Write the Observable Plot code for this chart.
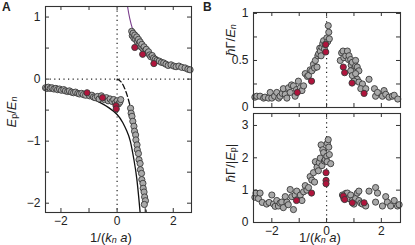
<!DOCTYPE html>
<html><head><meta charset="utf-8">
<script src="https://cdn.jsdelivr.net/npm/d3@7"></script>
<script src="https://cdn.jsdelivr.net/npm/@observablehq/plot@0.6"></script>
<style>
body{margin:0;background:#fff;}
#wrap{position:relative;width:415px;height:245px;font-family:"Liberation Sans",Arial,sans-serif;color:#222;}
.p{position:absolute;z-index:1;overflow:visible;}
.lab{position:absolute;white-space:nowrap;font-size:13px;line-height:1;z-index:5;}
.rot{transform:translate(-50%,-50%) rotate(-90deg);}
.hor{transform:translate(-50%,-50%);}
sub{font-size:9px;vertical-align:-1.5px;line-height:0;}
.pl{position:absolute;font-weight:bold;font-size:12px;z-index:5;}
</style></head>
<body><div id="wrap">
<div class="pl" style="left:2px;top:0px">A</div>
<div class="pl" style="left:203px;top:0px">B</div>
<div class="lab rot" style="left:11px;top:112px"><i>E</i><sub>p</sub>/<i>E</i><sub><i>n</i></sub></div>
<div class="lab hor" style="left:111px;top:236.5px">1/(<i>k</i><sub><i>n</i></sub> <i>a</i>)</div>
<div class="lab rot" style="left:230px;top:40px"><i>ħ</i>Γ/<i>E</i><sub><i>n</i></sub></div>
<div class="lab rot" style="left:230px;top:163px"><i>ħ</i>Γ/|<i>E</i><sub>p</sub>|</div>
<div class="lab hor" style="left:320px;top:236.5px">1/(<i>k</i><sub><i>n</i></sub> <i>a</i>)</div>
</div>
<script>
// ---- Panel A data ----
const aGrayLower = [[-2.55,-0.14],[-2.5,-0.15],[-2.45,-0.13],[-2.38,-0.15],[-2.32,-0.14],[-2.25,-0.16],[-2.18,-0.15],[-2.12,-0.17],[-2.05,-0.16],[-1.98,-0.18],[-1.9,-0.17],[-1.84,-0.19],[-1.76,-0.2],[-1.7,-0.19],[-1.62,-0.21],[-1.55,-0.22],[-1.48,-0.21],[-1.4,-0.23],[-1.34,-0.24],[-1.26,-0.23],[-1.2,-0.25],[-1.12,-0.26],[-0.98,-0.27],[-0.9,-0.26],[-0.84,-0.29],[-0.78,-0.3],[-0.7,-0.28],[-0.64,-0.32],[-0.56,-0.27],[-0.45,-0.33],[-0.38,-0.3],[-0.32,-0.35],[-0.25,-0.32],[-0.18,-0.36],[-0.12,-0.33],[-0.06,-0.38],[0.0,-0.35],[0.05,-0.4],[0.1,-0.37],[0.13,-0.33]];
const aGrayUpper = [[0.52,0.77],[0.54,0.70],[0.57,0.74],[0.6,0.66],[0.63,0.71],[0.66,0.64],[0.7,0.68],[0.72,0.6],[0.76,0.64],[0.78,0.56],[0.82,0.6],[0.85,0.52],[0.88,0.56],[0.92,0.49],[0.96,0.52],[1.0,0.46],[1.04,0.48],[1.08,0.42],[1.12,0.44],[1.16,0.39],[1.2,0.36],[1.25,0.38],[1.3,0.34],[1.36,0.32],[1.42,0.30],[1.5,0.29],[1.58,0.27],[1.66,0.26],[1.74,0.24],[1.82,0.22],[1.92,0.23],[2.02,0.21],[2.1,0.20],[2.2,0.21],[2.3,0.19],[2.42,0.18],[2.52,0.16],[2.6,0.15]];
const aGrayMolecule = [[0.48,-0.47],[0.5,-0.55],[0.53,-0.6],[0.56,-0.68],[0.6,-0.76],[0.62,-0.84],[0.66,-0.9],[0.67,-0.98],[0.71,-1.06],[0.72,-1.14],[0.76,-1.2],[0.78,-1.3],[0.82,-1.36],[0.83,-1.46],[0.87,-1.52],[0.88,-1.62],[0.92,-1.68],[0.93,-1.76],[0.96,-1.82],[0.98,-1.9],[1.01,-1.96],[0.97,-2.02]];
const aRed = [[-1.07,-0.22],[-0.52,-0.3],[-0.04,-0.43],[-0.03,-0.48],[0.63,0.51],[0.91,0.40],[1.31,0.25]];
const aRepulsiveCurve = [[0.34,1.3],[0.38,1.15],[0.45,0.98],[0.55,0.81],[0.7,0.63],[0.85,0.52],[1.0,0.44],[1.3,0.34],[1.6,0.27],[2.0,0.21],[2.3,0.185],[2.7,0.155]];
const aAttractiveCurve = [[-2.6,-0.14],[-2,-0.18],[-1.5,-0.23],[-1,-0.3],[-0.6,-0.38],[-0.3,-0.46],[0,-0.57],[0.2,-0.7],[0.35,-0.84],[0.47,-1.0],[0.6,-1.3],[0.7,-1.6],[0.78,-1.95],[0.84,-2.25]];
const aMoleculeCurve = [[0,0],[0.05,-0.01],[0.15,-0.05],[0.25,-0.13],[0.35,-0.25],[0.45,-0.41],[0.55,-0.6],[0.65,-0.84],[0.75,-1.12],[0.85,-1.45],[0.95,-1.81],[1.06,-2.25]];
const aXTicks = [-2,-1,0,1,2], aXLabels = [-2,0,2];
const aYTicks = [-2,-1.5,-1,-0.5,0,0.5,1], aYLabels = [-2,-1,0,1];

// ---- Panel B (top) data: hbar Gamma / E_n ----
const bTopGray = [[-2.62,0.11],[-2.55,0.12],[-2.43,0.12],[-2.3,0.10],[-2.25,0.11],[-2.12,0.10],[-2.06,0.16],[-2.0,0.10],[-1.9,0.12],[-1.82,0.16],[-1.75,0.10],[-1.7,0.12],[-1.62,0.15],[-1.58,0.20],[-1.51,0.14],[-1.45,0.10],[-1.39,0.21],[-1.33,0.16],[-1.28,0.24],[-1.21,0.23],[-1.15,0.12],[-1.1,0.19],[-1.03,0.28],[-0.96,0.21],[-0.9,0.18],[-0.84,0.23],[-0.78,0.36],[-0.7,0.33],[-0.66,0.34],[-0.6,0.40],[-0.54,0.39],[-0.48,0.46],[-0.44,0.42],[-0.41,0.50],[-0.35,0.43],[-0.32,0.55],[-0.29,0.57],[-0.25,0.63],[-0.23,0.60],[-0.2,0.55],[-0.17,0.64],[-0.14,0.68],[-0.11,0.71],[-0.08,0.62],[-0.05,0.67],[0.01,0.74],[0.04,0.70],[0.06,0.87],[0.08,0.80],[0.1,0.73],
 [0.5,0.50],[0.55,0.58],[0.6,0.60],[0.63,0.53],[0.7,0.55],[0.76,0.60],[0.8,0.51],[0.82,0.55],[0.88,0.51],[0.9,0.45],[0.94,0.48],[1.0,0.41],[1.06,0.50],[1.06,0.44],[1.12,0.43],[1.18,0.39],[0.88,0.39],[0.94,0.34],[1.06,0.36],[1.12,0.30],[1.0,0.28],[1.18,0.27],[1.31,0.25],[1.25,0.20],[1.43,0.20],[1.55,0.30],[1.75,0.20],[1.79,0.12],[1.86,0.16],[2.04,0.12],[2.1,0.18],[2.16,0.14],[2.28,0.11],[2.4,0.12],[2.47,0.13],[2.6,0.09]];
const bTopRed = [[-1.07,0.16],[-0.55,0.28],[-0.03,0.67],[-0.03,0.59],[0.61,0.43],[0.66,0.37],[0.93,0.26],[1.37,0.15]];
const bTopYTicks = [0,0.25,0.5,0.75,1], bTopYLabels = [0,0.5,1];

// ---- Panel B (bottom) data: hbar Gamma / |E_p| ----
const bBotGray = [[-2.62,0.78],[-2.58,0.91],[-2.49,0.74],[-2.43,0.91],[-2.35,0.62],[-2.19,0.57],[-2.1,0.62],[-2.0,0.85],[-1.94,0.57],[-1.88,0.50],[-1.82,0.68],[-1.76,0.51],[-1.7,0.60],[-1.64,0.63],[-1.58,0.46],[-1.51,0.80],[-1.45,0.63],[-1.4,0.55],[-1.33,1.02],[-1.27,0.80],[-1.21,0.40],[-1.15,0.85],[-1.09,0.97],[-1.02,0.75],[-0.96,0.85],[-0.9,0.68],[-0.84,0.95],[-0.78,1.14],[-0.72,1.0],[-0.66,1.08],[-0.6,1.42],[-0.54,1.31],[-0.48,1.54],[-0.44,1.25],[-0.41,1.88],[-0.35,1.71],[-0.3,1.6],[-0.27,1.85],[-0.23,1.99],[-0.2,2.4],[-0.17,1.76],[-0.14,2.25],[-0.11,2.16],[-0.08,1.9],[-0.05,1.94],[0.01,2.05],[0.03,2.45],[0.06,2.56],[0.08,2.33],[0.02,1.88],[0.15,1.82],[0.1,2.1],
 [0.58,0.85],[0.63,0.74],[0.7,0.9],[0.76,0.91],[0.82,0.74],[0.88,0.85],[0.94,0.68],[1.0,0.57],[1.06,0.74],[1.12,0.91],[1.18,0.97],[1.18,0.68],[1.25,0.6],[1.31,0.57],[1.43,0.51],[1.55,0.97],[1.79,1.08],[1.86,0.91],[1.79,0.63],[2.04,0.51],[2.16,0.80],[2.22,0.63],[2.34,0.51],[2.47,0.68],[2.59,0.51],[2.65,0.55]];
const bBotRed = [[-1.1,0.68],[-0.55,0.91],[-0.02,1.54],[-0.02,1.30],[-0.02,1.20],[0.61,0.82],[0.66,0.71],[0.94,0.61],[1.37,0.61]];
const bBotYTicks = [0,1,2,3], bBotYLabels = [0,1,2,3];
const bXTicks = [-2,-1,0,1,2], bXLabels = [-2,0,2];

const GRAY = "#a9a9a9", RED = "#b0143c", EDGE = "#3a3a3a", FRAME = "#333";
const font = {fontFamily: "'Liberation Sans', Arial, sans-serif", fontSize: "12px", color: "#222", background: "none", overflow: "visible"};
const fmt = d3.format("~g");

function frameMarks(w, h, m, xTicks, xLabels, yTicks, yLabels, showX) {
  const ph = h - m.top - m.bottom, pw = w - m.left - m.right, T = 4;
  const out = [
    Plot.tickX(xTicks, {x: d => d, insetTop: ph - T, stroke: FRAME}),
    Plot.tickX(xTicks, {x: d => d, insetBottom: ph - T, stroke: FRAME}),
    Plot.tickY(yTicks, {y: d => d, insetRight: pw - T, stroke: FRAME}),
    Plot.tickY(yTicks, {y: d => d, insetLeft: pw - T, stroke: FRAME}),
    Plot.axisY(yLabels, {anchor: "left", tickSize: 0, tickPadding: 5, label: null, tickFormat: fmt}),
    Plot.frame({stroke: FRAME, strokeWidth: 1.1})
  ];
  if (showX) out.push(Plot.axisX(xLabels, {anchor: "bottom", tickSize: 0, tickPadding: 4, label: null, tickFormat: fmt}));
  else out.push(Plot.axisX([], {anchor: "bottom", label: null}));
  return out;
}
function dots(data, fill) {
  return Plot.dot(data, {x: d => d[0], y: d => d[1], r: 3.1, fill, stroke: EDGE, strokeWidth: 0.9});
}
const dotted = {stroke: "#222", strokeWidth: 1.2, strokeDasharray: "1.2,3.4"};
const wrap = document.getElementById("wrap");
function place(chart, left, top) {
  chart.classList.add("p"); chart.style.left = left + "px"; chart.style.top = top + "px";
  wrap.insertBefore(chart, wrap.firstChild);
}

// Panel A
{
  const w = 200, h = 245, m = {top: 6, right: 9, bottom: 33, left: 45};
  place(Plot.plot({
    width: w, height: h, marginTop: m.top, marginRight: m.right, marginBottom: m.bottom, marginLeft: m.left,
    style: font,
    x: {domain: [-2.55, 2.65]},
    y: {domain: [-2.15, 1.17]},
    marks: [
      Plot.ruleX([0], dotted),
      Plot.ruleY([0], dotted),
      Plot.line(aRepulsiveCurve, {x: d => d[0], y: d => d[1], stroke: "#7a3d8c", strokeWidth: 1.1, curve: "natural", clip: true}),
      Plot.line(aAttractiveCurve, {x: d => d[0], y: d => d[1], stroke: "#111", strokeWidth: 1.3, curve: "natural", clip: true}),
      Plot.line(aMoleculeCurve, {x: d => d[0], y: d => d[1], stroke: "#111", strokeWidth: 1.3, strokeDasharray: "5,3", curve: "natural", clip: true}),
      dots(aGrayLower, GRAY),
      dots(aGrayUpper, GRAY),
      dots(aGrayMolecule, GRAY),
      dots(aRed, RED),
      ...frameMarks(w, h, m, aXTicks, aXLabels, aYTicks, aYLabels, true)
    ]
  }), 0, 0);
}
// Panel B top
{
  const w = 215, h = 110, m = {top: 12, right: 15, bottom: 3, left: 53};
  place(Plot.plot({
    width: w, height: h, marginTop: m.top, marginRight: m.right, marginBottom: m.bottom, marginLeft: m.left,
    style: font,
    x: {domain: [-2.67, 2.7]},
    y: {domain: [0, 1.01]},
    marks: [
      Plot.ruleX([0], dotted),
      dots(bTopGray, GRAY),
      dots(bTopRed, RED),
      ...frameMarks(w, h, m, bXTicks, bXLabels, bTopYTicks, bTopYLabels, false)
    ]
  }), 200, 0);
}
// Panel B bottom
{
  const w = 215, h = 135, m = {top: 3, right: 15, bottom: 23, left: 53};
  place(Plot.plot({
    width: w, height: h, marginTop: m.top, marginRight: m.right, marginBottom: m.bottom, marginLeft: m.left,
    style: font,
    x: {domain: [-2.67, 2.7]},
    y: {domain: [0, 3.37]},
    marks: [
      Plot.ruleX([0], dotted),
      dots(bBotGray, GRAY),
      dots(bBotRed, RED),
      ...frameMarks(w, h, m, bXTicks, bXLabels, bBotYTicks, bBotYLabels, true)
    ]
  }), 200, 110);
}
</script>
</body></html>
